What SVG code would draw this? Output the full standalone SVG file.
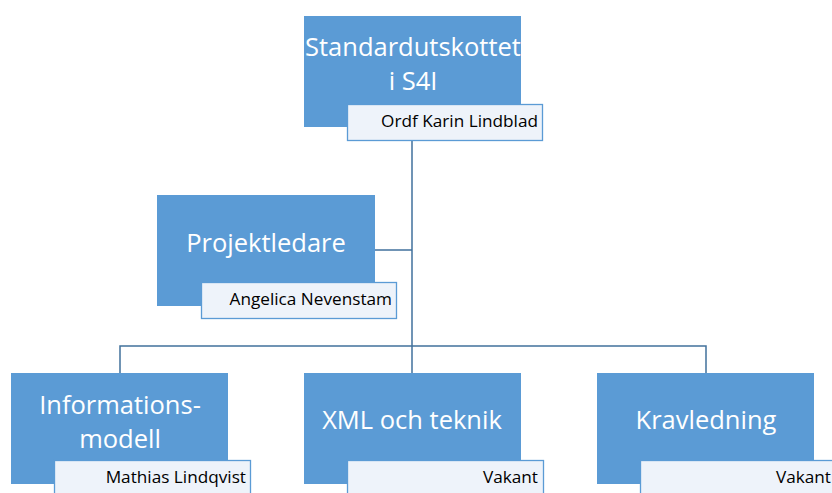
<svg xmlns="http://www.w3.org/2000/svg" width="832" height="493" viewBox="0 0 832 493">
<style>
.box{fill:#5B9BD5;}
.lab{fill:#EEF3FA;stroke:#5B9BD5;stroke-width:1.3;}
.t{font-family:"Open Sans","Liberation Sans",sans-serif;font-size:25.5px;fill:#FFFFFF;text-anchor:middle;}
.s{font-family:"Open Sans","Liberation Sans",sans-serif;font-size:17.2px;fill:#000000;text-anchor:end;}
.c{fill:none;stroke:#41719C;stroke-width:1.5;}
</style>
<rect width="832" height="493" fill="#FFFFFF"/>
<g id="connectors">
<path class="c" d="M412,141 V346"/>
<path class="c" d="M375,250 H412"/>
<path class="c" d="M120,373 V346 H706 V373"/>
<path class="c" d="M412,346 V373"/>
</g>
<g id="n-top">
<rect class="box" x="304" y="16" width="217" height="111"/>
<text class="t" x="413" y="56">Standardutskottet</text>
<text class="t" x="413" y="90">i S4I</text>
<rect class="lab" x="347.5" y="104.5" width="195" height="36"/>
<text class="s" x="538" y="127">Ordf Karin Lindblad</text>
</g>
<g id="n-pl">
<rect class="box" x="157" y="195" width="218" height="111"/>
<text class="t" x="266" y="252">Projektledare</text>
<rect class="lab" x="201.5" y="282.5" width="195" height="36"/>
<text class="s" x="392" y="305">Angelica Nevenstam</text>
</g>
<g id="n-info">
<rect class="box" x="11" y="373" width="217" height="111"/>
<text class="t" x="120" y="414">Informations-</text>
<text class="t" x="120" y="448">modell</text>
<rect class="lab" x="54.5" y="460.5" width="196" height="40"/>
<text class="s" x="246" y="483">Mathias Lindqvist</text>
</g>
<g id="n-xml">
<rect class="box" x="304" y="373" width="217" height="111"/>
<text class="t" x="412" y="429">XML och teknik</text>
<rect class="lab" x="347.5" y="460.5" width="196" height="40"/>
<text class="s" x="538" y="483">Vakant</text>
</g>
<g id="n-krav">
<rect class="box" x="597" y="373" width="217" height="111"/>
<text class="t" x="706" y="429">Kravledning</text>
<rect class="lab" x="640.5" y="460.5" width="196" height="40"/>
<text class="s" x="831" y="483">Vakant</text>
</g>
</svg>
